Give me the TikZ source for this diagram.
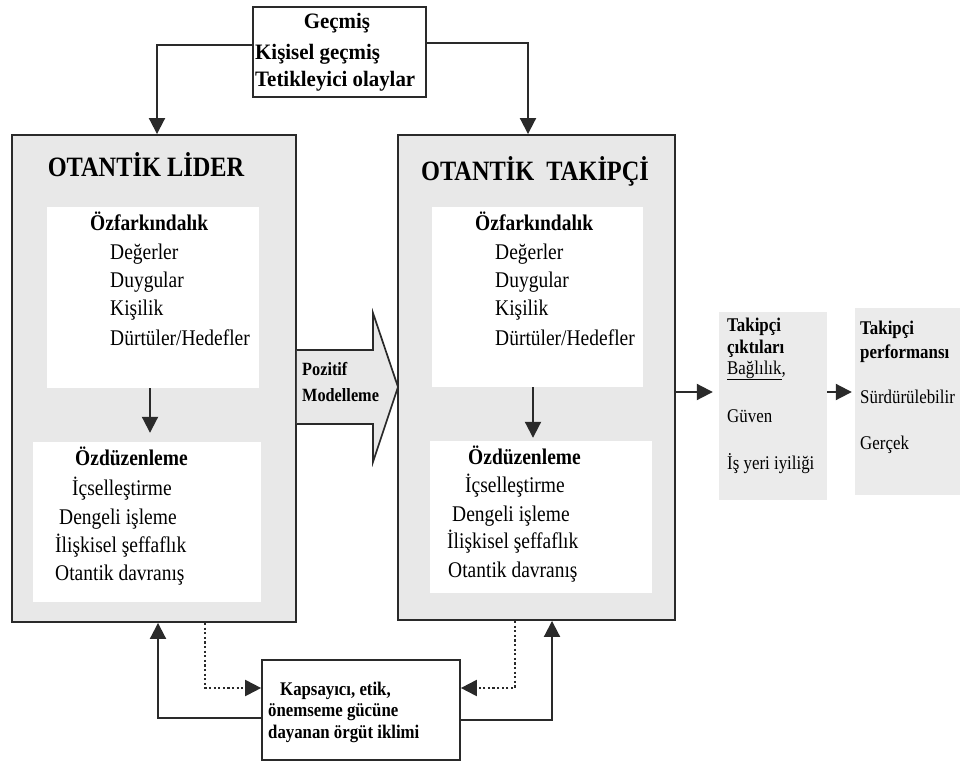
\documentclass[tikz,border=0pt]{standalone}
\usepackage{fontspec}
\setmainfont{Liberation Serif}
\newfontfamily\cf{Liberation Serif}[FakeStretch=0.87]
\newfontfamily\tf{Liberation Serif}[FakeStretch=0.95]
\usetikzlibrary{arrows.meta,calc}
\definecolor{boxgray}{HTML}{E8E8E8}
\definecolor{outgray}{HTML}{EBEBEB}
\definecolor{linec}{HTML}{2A2A2A}
\begin{document}
\begin{tikzpicture}[x=1pt,y=-1pt,
  bigbox/.style={draw=linec, line width=1.9pt, fill=boxgray, inner sep=0pt},
  whitebox/.style={fill=white, draw=none, inner sep=0pt},
  outbox/.style={fill=outgray, draw=none, inner sep=0pt},
  framebox/.style={draw=linec, line width=1.7pt, fill=white, inner sep=0pt},
  conn/.style={draw=linec, line width=2pt, -{Triangle[length=16pt,width=16pt]}},
  dotconn/.style={conn, dash pattern=on 2.2pt off 2.4pt},
  t/.style={anchor=base west, inner sep=0pt, font=\cf\fontsize{22.4}{24}\selectfont},
  tb/.style={anchor=base west, inner sep=0pt, font=\cf\fontsize{22.4}{24}\selectfont\bfseries},
  toptxt/.style={anchor=base west, inner sep=0pt, font=\tf\fontsize{22}{24}\selectfont\bfseries},
  title/.style={anchor=base, inner sep=0pt, font=\cf\fontsize{28}{30}\selectfont\bfseries},
  ot/.style={anchor=base west, inner sep=0pt, font=\cf\fontsize{19.4}{21}\selectfont},
  otb/.style={anchor=base west, inner sep=0pt, font=\cf\fontsize{19.4}{21}\selectfont\bfseries},
  bt/.style={anchor=base west, inner sep=0pt, font=\cf\fontsize{19.3}{21}\selectfont\bfseries},
  pt/.style={anchor=base west, inner sep=0pt, font=\cf\fontsize{18.7}{20}\selectfont\bfseries}
]
\useasboundingbox (0,0) rectangle (960,762);

% big boxes
\node[bigbox, minimum width=284pt, minimum height=487pt] (lider) at (154,378.5) {};
\node[bigbox, minimum width=277pt, minimum height=485pt] (takipci) at (536.5,377.5) {};

% inner white boxes
\node[whitebox, minimum width=212pt, minimum height=181pt] (L1) at (153,297.5) {};
\node[whitebox, minimum width=228pt, minimum height=160pt] (L2) at (147,522) {};
\node[whitebox, minimum width=211pt, minimum height=180pt] (R1) at (537.5,297) {};
\node[whitebox, minimum width=222pt, minimum height=152pt] (R2) at (541,517) {};

% output boxes
\node[outbox, minimum width=108pt, minimum height=188pt] (out1) at (773,406) {};
\node[outbox, minimum width=105pt, minimum height=187pt] (out2) at (907.5,401.5) {};

% top and bottom boxes
\node[framebox, minimum width=173pt, minimum height=90pt] (top) at (339.5,52) {};
\node[framebox, minimum width=198pt, minimum height=100pt] (bottom) at (361,710) {};

% positive modelling arrow
\fill[boxgray] (296.9,350) -- (373,350) -- (373,313) -- (398,387) -- (373,462) -- (373,424) -- (296.9,424) -- cycle;
\draw[linec, line width=1.7pt, line join=miter] (296.9,350) -- (373,350) -- (373,313) -- (398,387) -- (373,462) -- (373,424) -- (296.9,424);
\node[pt] (pm1) at (302,375) {Pozitif};
\node[pt] (pm2) at (302,401) {Modelleme};

% titles
\node[title] (lt) at (146,177) {OTANTİK LİDER};
\node[title] (rt) at (535,181) {OTANTİK\ \ TAKİPÇİ};

% top box text
\node[toptxt, anchor=base] (g1) at (337,29) {Geçmiş};
\node[toptxt] (g2) at (255,60) {Kişisel geçmiş};
\node[toptxt] (g3) at (255,87) {Tetikleyici olaylar};

% left lists
\node[tb] (la0) at (90,230) {Özfarkındalık};
\node[t] (la1) at (110,259) {Değerler};
\node[t] (la2) at (110,287) {Duygular};
\node[t] (la3) at (110,315) {Kişilik};
\node[t] (la4) at (110,345) {Dürtüler/Hedefler};

\node[tb] (lb0) at (75,465) {Özdüzenleme};
\node[t] (lb1) at (72,495) {İçselleştirme};
\node[t] (lb2) at (59,524) {Dengeli işleme};
\node[t] (lb3) at (55,552) {İlişkisel şeffaflık};
\node[t] (lb4) at (55,580) {Otantik davranış};

% right lists
\node[tb] (ra0) at (475,230) {Özfarkındalık};
\node[t] (ra1) at (495,259) {Değerler};
\node[t] (ra2) at (495,287) {Duygular};
\node[t] (ra3) at (495,315) {Kişilik};
\node[t] (ra4) at (495,345) {Dürtüler/Hedefler};

\node[tb] (rb0) at (468,464) {Özdüzenleme};
\node[t] (rb1) at (465,492) {İçselleştirme};
\node[t] (rb2) at (452,521) {Dengeli işleme};
\node[t] (rb3) at (447,548) {İlişkisel şeffaflık};
\node[t] (rb4) at (448,577) {Otantik davranış};

% output texts
\node[otb] (o1a) at (727,331) {Takipçi};
\node[otb] (o1b) at (727,353) {çıktıları};
\node[ot] (o1c) at (727,374) {\underline{Bağlılık},};
\node[ot] (o1d) at (727,422) {Güven};
\node[ot] (o1e) at (727,469) {İş yeri iyiliği};

\node[otb] (o2a) at (860,334) {Takipçi};
\node[otb] (o2b) at (860,358) {performansı};
\node[ot] (o2c) at (860,403) {Sürdürülebilir};
\node[ot] (o2d) at (860,449) {Gerçek};

% bottom text
\node[bt] (b1) at (280,695) {Kapsayıcı, etik,};
\node[bt] (b2) at (268,716) {önemseme gücüne};
\node[bt] (b3) at (268,738) {dayanan örgüt iklimi};

% connectors
\coordinate (lidIn) at ([xshift=3pt]lider.north);
\coordinate (takIn) at ([xshift=-8.5pt]takipci.north);
\draw[conn] ([yshift=7pt]top.west) -| (lidIn);
\draw[conn] ([yshift=9pt]top.east) -| (takIn);

\coordinate (l1s) at ([xshift=-3pt]L1.south);
\coordinate (l2n) at ($(l1s |- L2.north)+(0,-9)$);
\draw[conn] (l1s) -- (l2n);
\coordinate (r1s) at ([xshift=-4.5pt]R1.south);
\coordinate (r2n) at ($(r1s |- R2.north)+(0,-3)$);
\draw[conn] (r1s) -- (r2n);

\coordinate (o1in) at ([xshift=-6pt,yshift=14pt]out1.west);
\draw[conn] (takipci.east |- o1in) -- (o1in);
\coordinate (o2in) at ([xshift=-3pt,yshift=9.5pt]out2.west);
\draw[conn] (out1.east |- o2in) -- (o2in);

\draw[conn] ([yshift=-8pt]bottom.west) -| ([xshift=4pt]lider.south);
\draw[dotconn] ([xshift=51pt]lider.south) |- ([yshift=22pt]bottom.west);
\draw[dotconn] ([xshift=-21.5pt]takipci.south) |- ([yshift=22pt]bottom.east);
\draw[conn] ([yshift=-10pt]bottom.east) -| ([xshift=15.5pt]takipci.south);
\end{tikzpicture}
\end{document}
